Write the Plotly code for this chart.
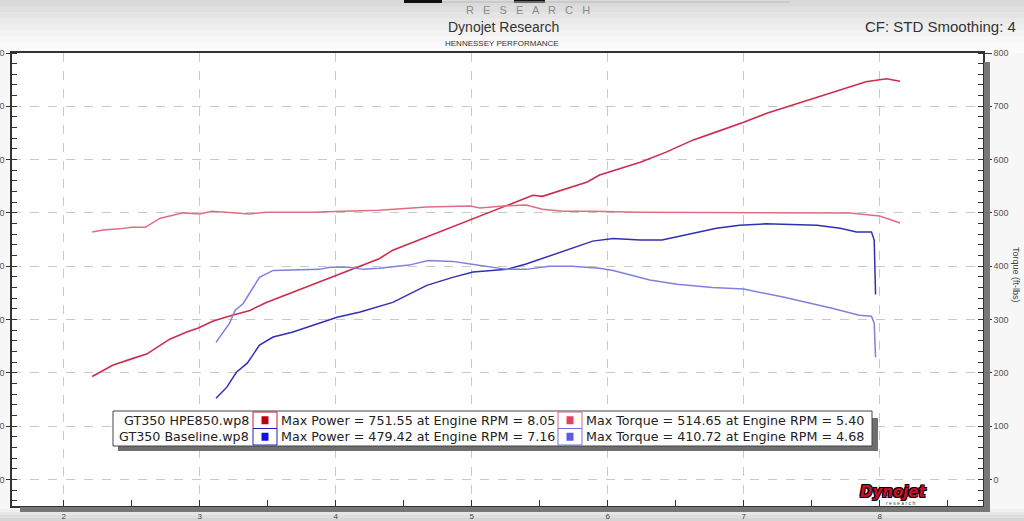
import plotly.graph_objects as go

# ---------------- data ----------------
rpm_hpe_power = [2.21, 2.36, 2.51, 2.61, 2.78, 2.90, 2.99, 3.10, 3.24, 3.37, 3.49, 3.68, 3.83, 4.01,
                 4.18, 4.32, 4.42, 4.67, 5.01, 5.26, 5.45, 5.52, 5.70, 5.85, 5.94, 6.04, 6.24, 6.43,
                 6.63, 6.80, 7.00, 7.17, 7.41, 7.65, 7.90, 8.05, 8.15]
hpe_power = [193, 214, 227, 235, 263, 276, 284, 297, 308, 317, 332, 351, 366, 383,
             400, 414, 430, 455, 490, 515, 533, 531, 546, 558, 571, 579, 595, 614,
             637, 652, 670, 687, 706, 725, 746, 751.55, 747]

rpm_hpe_torque = [2.21, 2.29, 2.41, 2.50, 2.60, 2.71, 2.88, 3.00, 3.09, 3.24, 3.37, 3.49, 3.83, 4.05,
                  4.32, 4.67, 4.99, 5.06, 5.23, 5.40, 5.52, 5.67, 5.89, 6.24, 7.00, 7.78, 8.00, 8.15]
hpe_torque = [464, 468, 470, 473, 473, 490, 500, 498, 503, 500, 498, 501, 501, 503,
              505, 511, 513, 509, 513, 514.65, 507, 503, 503, 501, 501, 500, 494, 481]

rpm_base_power = [3.12, 3.20, 3.27, 3.35, 3.44, 3.54, 3.68, 3.88, 4.01, 4.18, 4.32, 4.42, 4.67, 4.86,
                  5.01, 5.26, 5.40, 5.55, 5.70, 5.89, 6.04, 6.24, 6.40, 6.60, 6.80, 6.97, 7.16, 7.54,
                  7.71, 7.83, 7.94, 7.96, 7.97]
base_power = [152, 173, 201, 218, 252, 267, 276, 293, 304, 314, 325, 332, 364, 379,
              389, 394, 404, 417, 430, 447, 452, 449, 449, 460, 471, 477, 479.42, 477,
              471, 464, 464, 449, 347]

rpm_base_torque = [3.12, 3.22, 3.26, 3.32, 3.44, 3.54, 3.88, 3.96, 4.10, 4.20, 4.32, 4.54, 4.68, 4.86,
                   4.99, 5.26, 5.40, 5.57, 5.74, 5.94, 6.04, 6.24, 6.31, 6.51, 6.77, 7.00, 7.29, 7.65,
                   7.85, 7.94, 7.96, 7.97]
base_torque = [257, 293, 317, 330, 379, 392, 394, 398, 398, 394, 396, 402, 410.72, 409,
               404, 394, 394, 400, 400, 396, 392, 379, 374, 366, 360, 357, 342, 321,
               308, 306, 293, 229]

run_names = ["GT350 HPE850.wp8", "GT350 Baseline.wp8"]
power_text = ["Max Power = 751.55 at Engine RPM = 8.05", "Max Power = 479.42 at Engine RPM = 7.16"]
torque_text = ["Max Torque = 514.65 at Engine RPM = 5.40", "Max Torque = 410.72 at Engine RPM = 4.68"]

x_ticks = [2, 3, 4, 5, 6, 7, 8]
y_ticks = [0, 100, 200, 300, 400, 500, 600, 700, 800]

C_HPE_P = "rgb(206,44,76)"
C_HPE_T = "rgb(226,108,130)"
C_BASE_P = "rgb(48,48,180)"
C_BASE_T = "rgb(128,128,222)"

# ---------------- layout helpers ----------------
W, H = 1024, 521
L, R, T, B = 12, 41, 53, 15
PW = W - L - R
PH = H - T - B


def px(x):
    return (x - L) / PW


def py(y):
    return (H - B - y) / PH


FONT = "Liberation Sans"
LFONT = "DejaVu Sans"
LSIZE = 12.7

fig = go.Figure()
fig.add_trace(go.Scatter(x=rpm_hpe_torque, y=hpe_torque, mode="lines", yaxis="y2",
                         line=dict(color=C_HPE_T, width=1.5), showlegend=False))
fig.add_trace(go.Scatter(x=rpm_base_torque, y=base_torque, mode="lines", yaxis="y2",
                         line=dict(color=C_BASE_T, width=1.5), showlegend=False))
fig.add_trace(go.Scatter(x=rpm_base_power, y=base_power, mode="lines",
                         line=dict(color=C_BASE_P, width=1.5), showlegend=False))
fig.add_trace(go.Scatter(x=rpm_hpe_power, y=hpe_power, mode="lines",
                         line=dict(color=C_HPE_P, width=1.6), showlegend=False))

shapes = []
# header gradient bands
top_cols = ["#d9d9d9", "#dedede", "#e4e4e4", "#e9e9e9", "#eeeeee", "#f3f3f3", "#f7f7f7", "#fafafa"]
for i, c in enumerate(top_cols):
    shapes.append(dict(type="rect", xref="paper", yref="paper", x0=px(0), x1=px(W),
                       y0=py(i * 6), y1=py(i * 6 + 6.5), fillcolor=c, line_width=0, layer="below"))
shapes.append(dict(type="rect", xref="paper", yref="paper", x0=px(0), x1=px(W),
                   y0=py(48), y1=py(T), fillcolor="#fbfbfb", line_width=0, layer="below"))
bot_cols = ["#efefef", "#e6e6e6", "#dedede", "#d6d6d6"]
for i, c in enumerate(bot_cols):
    shapes.append(dict(type="rect", xref="paper", yref="paper", x0=px(0), x1=px(W),
                       y0=py(509 + i * 3), y1=py(509 + i * 3 + 3.5), fillcolor=c, line_width=0, layer="below"))
# logo fragments at the very top
shapes.append(dict(type="rect", xref="paper", yref="paper", x0=px(404), x1=px(442),
                   y0=py(0), y1=py(3), fillcolor="#111", line_width=0))
shapes.append(dict(type="rect", xref="paper", yref="paper", x0=px(514), x1=px(545),
                   y0=py(0), y1=py(3), fillcolor="#111", line_width=0))
shapes.append(dict(type="line", xref="paper", yref="paper", x0=px(442), x1=px(790),
                   y0=py(2), y1=py(2), line=dict(color="#bbbbbb", width=1)))
# plot drop shadows
shapes.append(dict(type="rect", xref="paper", yref="paper", x0=px(984), x1=px(990),
                   y0=py(512), y1=py(62), fillcolor="#777777", line_width=0))
shapes.append(dict(type="rect", xref="paper", yref="paper", x0=px(20), x1=px(990),
                   y0=py(512), y1=py(507), fillcolor="#777777", line_width=0))

# legend table
lx0, lx1, ly0, ly1 = 113, 872, 411, 446
ymid = (ly0 + ly1) / 2
shapes.append(dict(type="rect", xref="paper", yref="paper", x0=px(lx0 + 5), x1=px(lx1 + 6),
                   y0=py(ly1 + 5), y1=py(ly0 + 7), fillcolor="#6e6e6e", line_width=0))
shapes.append(dict(type="rect", xref="paper", yref="paper", x0=px(lx0), x1=px(lx1),
                   y0=py(ly1), y1=py(ly0), fillcolor="white", line=dict(color="#444", width=1)))
cells = [(253, 277), (558, 582)]
row_border = [["#c02030", "#e0607a"], ["#2020c0", "#7070d8"]]
swatch_col = [["#c00010", "#e84060"], ["#1010e0", "#5a5ae6"]]
rows = [(ly0 + 1, ymid), (ymid, ly1 - 1)]
for r, (ya, yb) in enumerate(rows):
    for c, (xa, xb) in enumerate(cells):
        shapes.append(dict(type="rect", xref="paper", yref="paper", x0=px(xa), x1=px(xb),
                           y0=py(yb), y1=py(ya), fillcolor="white",
                           line=dict(color=row_border[r][c], width=1)))
        cx, cy = (xa + xb) / 2, (ya + yb) / 2
        shapes.append(dict(type="rect", xref="paper", yref="paper", x0=px(cx - 3.5), x1=px(cx + 3.5),
                           y0=py(cy + 4), y1=py(cy - 4), fillcolor=swatch_col[r][c], line_width=0))

annotations = []
for r, (ya, yb) in enumerate(rows):
    cy = (ya + yb) / 2
    annotations.append(dict(text=run_names[r], x=px(251), y=py(cy), xref="paper", yref="paper",
                            xanchor="right", yanchor="middle", showarrow=False,
                            font=dict(family=LFONT, size=LSIZE, color="#222")))
    annotations.append(dict(text=power_text[r], x=px(279), y=py(cy), xref="paper", yref="paper",
                            xanchor="left", yanchor="middle", showarrow=False,
                            font=dict(family=LFONT, size=LSIZE, color="#222")))
    annotations.append(dict(text=torque_text[r], x=px(584), y=py(cy), xref="paper", yref="paper",
                            xanchor="left", yanchor="middle", showarrow=False,
                            font=dict(family=LFONT, size=LSIZE, color="#222")))

# header texts
annotations.append(dict(text="R   E   S   E   A   R   C   H", x=px(528), y=py(9.5), xref="paper", yref="paper",
                        xanchor="center", yanchor="middle", showarrow=False,
                        font=dict(family=FONT, size=11, color="#8a8a8a")))
annotations.append(dict(text="Dynojet Research", x=px(503), y=py(27), xref="paper", yref="paper",
                        xanchor="center", yanchor="middle", showarrow=False,
                        font=dict(family=FONT, size=14, color="#333")))
annotations.append(dict(text="HENNESSEY PERFORMANCE", x=px(502), y=py(43), xref="paper", yref="paper",
                        xanchor="center", yanchor="middle", showarrow=False,
                        font=dict(family=FONT, size=8, color="#333")))
annotations.append(dict(text="CF: STD Smoothing: 4", x=px(1018), y=py(27), xref="paper", yref="paper",
                        xanchor="right", yanchor="middle", showarrow=False,
                        font=dict(family=FONT, size=15, color="#333")))
annotations.append(dict(text="Torque (ft-lbs)", x=px(1016), y=py(275), xref="paper", yref="paper",
                        xanchor="center", yanchor="middle", showarrow=False, textangle=90,
                        font=dict(family=FONT, size=9, color="#444")))
# Dynojet logo
annotations.append(dict(text="<b><i>Dynojet</i></b>", x=px(893), y=py(492), xref="paper", yref="paper",
                        xanchor="center", yanchor="middle", showarrow=False,
                        font=dict(family="DejaVu Sans", size=15, color="#c8102e",
                                  shadow="1px 1px 0px #000, -1px -1px 0px #000, 1px -1px 0px #000, -1px 1px 0px #000")))
annotations.append(dict(text="r e s e a r c h", x=px(900), y=py(503), xref="paper", yref="paper",
                        xanchor="center", yanchor="middle", showarrow=False,
                        font=dict(family=FONT, size=5, color="#444")))

fig.update_layout(
    width=W, height=H,
    margin=dict(l=L, r=R, t=T, b=B, pad=0),
    paper_bgcolor="#f7f7f7",
    plot_bgcolor="white",
    showlegend=False,
    shapes=shapes,
    annotations=annotations,
    xaxis=dict(range=[1.62, 8.76], tickvals=x_ticks, ticktext=[str(v) for v in x_ticks],
               showline=True, linecolor="#333", linewidth=1.5, mirror=True,
               ticks="outside", ticklen=2, tickcolor="#333",
               minor=dict(ticks="inside", dtick=0.5, tick0=0, ticklen=6, tickcolor="#333", showgrid=False),
               showgrid=True, gridcolor="#c9c9c9", griddash="dash", gridwidth=1,
               zeroline=False, tickfont=dict(family=FONT, size=8, color="#444"),
               automargin=False, fixedrange=True),
    yaxis=dict(range=[-50, 800], tickvals=y_ticks, ticktext=[str(v) for v in y_ticks],
               showline=True, linecolor="#333", linewidth=1.5,
               ticks="outside", ticklen=4, tickcolor="#333",
               minor=dict(ticks="inside", dtick=20, tick0=0, ticklen=5, tickcolor="#333", showgrid=False),
               showgrid=True, gridcolor="#c9c9c9", griddash="dash", gridwidth=1,
               zeroline=False, tickfont=dict(family=FONT, size=9, color="#555"),
               automargin=False, fixedrange=True),
    yaxis2=dict(range=[-50, 800], tickvals=y_ticks, ticktext=[str(v) for v in y_ticks],
                overlaying="y", side="right",
                showline=True, linecolor="#333", linewidth=1.5,
                ticks="outside", ticklen=7, tickcolor="#333",
                minor=dict(ticks="inside", dtick=20, tick0=0, ticklen=5, tickcolor="#333", showgrid=False),
                showgrid=False, zeroline=False,
                tickfont=dict(family=FONT, size=9, color="#555"),
                automargin=False, fixedrange=True),
)

fig.write_html("out.html", config={"displayModeBar": False},
               post_script="document.body.style.margin='0px';document.body.style.overflow='hidden';")
